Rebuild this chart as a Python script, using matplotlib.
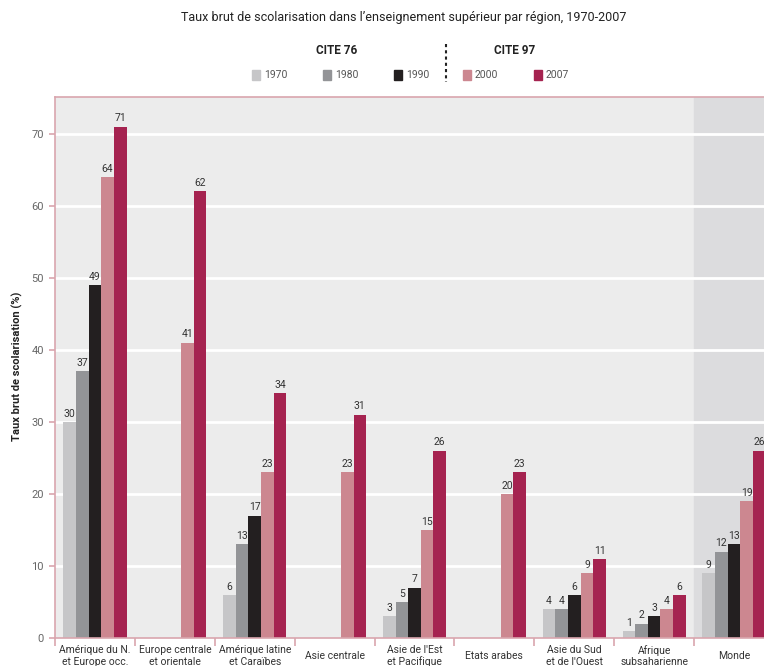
import numpy as np
import matplotlib.pyplot as plt
from matplotlib.patches import Rectangle
from matplotlib.lines import Line2D

plt.rcParams['font.family'] = ['Roboto', 'DejaVu Sans']

regions = ["Amérique du N.\net Europe occ.", "Europe centrale\net orientale",
           "Amérique latine\net Caraïbes", "Asie centrale",
           "Asie de l'Est\net Pacifique", "Etats arabes",
           "Asie du Sud\net de l'Ouest", "Afrique\nsubsaharienne", "Monde"]
years = ["1970", "1980", "1990", "2000", "2007"]

# taux brut de scolarisation (%) ; None = pas de donnée
v1970 = [30, None, 6, None, 3, None, 4, 1, 9]
v1980 = [37, None, 13, None, 5, None, 4, 2, 12]
v1990 = [49, None, 17, None, 7, None, 6, 3, 13]
v2000 = [64, 41, 23, 23, 15, 20, 9, 4, 19]
v2007 = [71, 62, 34, 31, 26, 23, 11, 6, 26]
series = [v1970, v1980, v1990, v2000, v2007]

colors = ["#c6c6c8", "#939497", "#231f20", "#cc8790", "#a52350"]
pink = "#d9a6ae"

fig = plt.figure(figsize=(7.64, 6.66), dpi=100)
ax = fig.add_axes([55 / 764, 28 / 666, 719 / 764, 541 / 666])
ax.set_facecolor("#ececec")

# zone "Monde" plus foncée
ax.axvspan(7.5, 8.5, color="#dcdcde", zorder=0)

ax.set_ylim(0, 75.1)
ax.set_xlim(-0.5, 8.5)
for y in range(10, 80, 10):
    ax.axhline(y, color="white", lw=2, zorder=1)

x = np.arange(len(regions))
w = 0.158
for i, (vals, col) in enumerate(zip(series, colors)):
    xs = [xi + (i - 2) * w for xi, v in zip(x, vals) if v is not None]
    hs = [v for v in vals if v is not None]
    ax.bar(xs, hs, width=w, color=col, zorder=2, edgecolor="none")
    for xx, h in zip(xs, hs):
        ax.text(xx, h + 0.45, str(h), ha="center", va="bottom",
                fontsize=7.5, color="#333333", zorder=3)

for s in ["left", "top", "bottom", "right"]:
    ax.spines[s].set_color(pink)
    ax.spines[s].set_linewidth(1.2)

ax.set_yticks(range(0, 80, 10))
ax.tick_params(axis="y", length=4, color=pink, width=1.2,
               labelsize=8, labelcolor="#666666", pad=4)
ax.set_xticks(np.arange(-0.5, 9, 1))
ax.set_xticklabels([])
ax.tick_params(axis="x", length=6, color=pink, width=1.2, direction="out")

for xi, lab in zip(x, regions):
    ax.text(xi, -18 / 541, lab, transform=ax.get_xaxis_transform(),
            ha="center", va="center", multialignment="center",
            fontsize=7.5, color="#333333", linespacing=1.15)

fig.text(17 / 764, 1 - 366 / 666, "Taux brut de scolarisation (%)",
         rotation=90, ha="center", va="center", fontsize=8,
         fontweight="bold", color="#222222")

fig.text(404 / 764, 1 - 18 / 666,
         "Taux brut de scolarisation dans l\u2019enseignement supérieur par région, 1970-2007",
         ha="center", va="center", fontsize=9, color="#222222")

# légende
fig.text(337 / 764, 1 - 50 / 666, "CITE 76", ha="center", va="center",
         fontsize=8.5, fontweight="bold", color="#222222")
fig.text(515 / 764, 1 - 50 / 666, "CITE 97", ha="center", va="center",
         fontsize=8.5, fontweight="bold", color="#222222")
fig.add_artist(Line2D([446 / 764, 446 / 764], [1 - 44 / 666, 1 - 82 / 666],
                      color="#222222", lw=1.5, linestyle=(0, (1.5, 1.5))))
sq_x = [252, 323, 394, 463, 534]
for sx, yr, col in zip(sq_x, years, colors):
    fig.add_artist(Rectangle((sx / 764, 1 - 80 / 666), 8 / 764, 10 / 666,
                             color=col, transform=fig.transFigure))
    fig.text((sx + 12) / 764, 1 - 75 / 666, yr, ha="left", va="center",
             fontsize=7.5, color="#555555")

fig.savefig("out.png", dpi=100)
